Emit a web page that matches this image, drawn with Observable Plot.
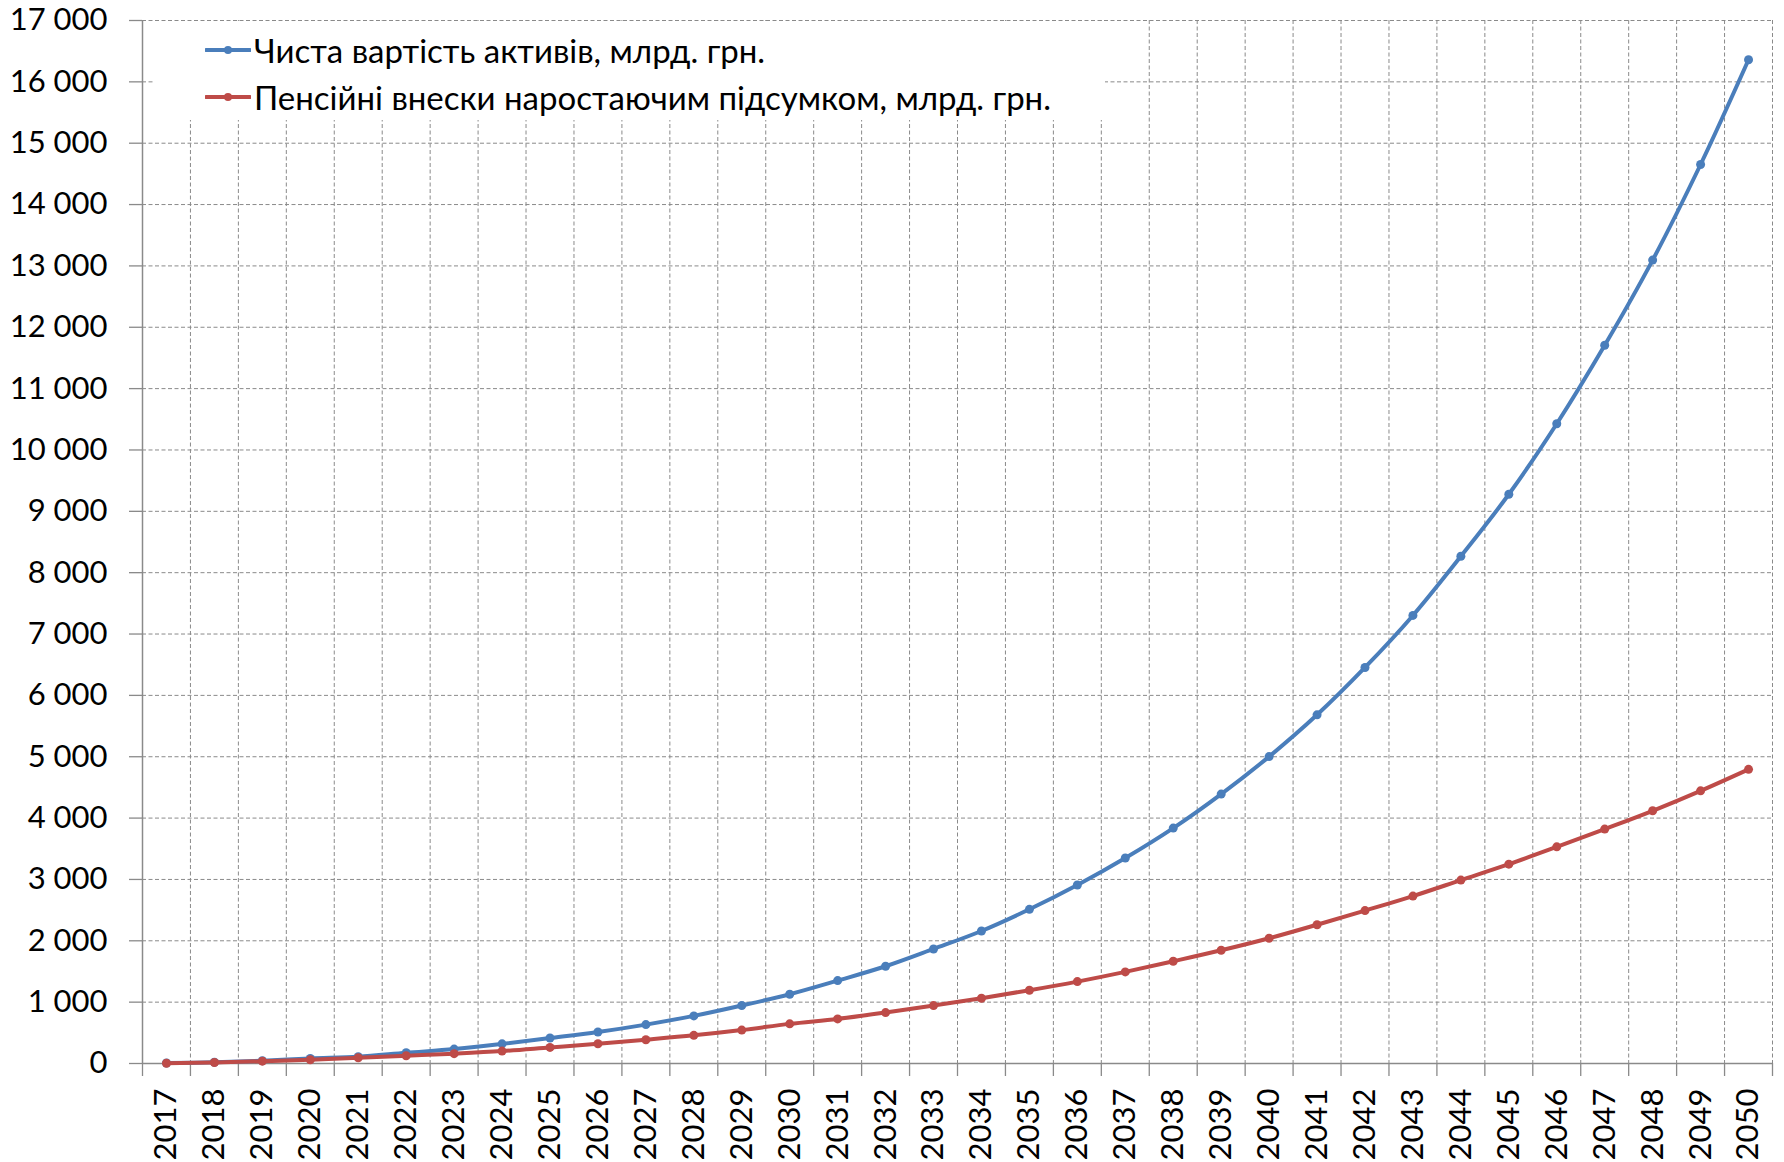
<!DOCTYPE html>
<html>
<head>
<meta charset="utf-8">
<script src="https://cdn.jsdelivr.net/npm/d3@7"></script>
<script src="https://cdn.jsdelivr.net/npm/@observablehq/plot@0.6"></script>
<style>
  html, body { margin: 0; padding: 0; background: #fff; }
  #wrap { position: relative; width: 1784px; height: 1162px; font-family: Lato, "Open Sans", sans-serif; }
  #legend { position: absolute; left: 153px; top: 21px; width: 952px; height: 99px; background: #fff; }
  .item { position: absolute; left: 0; height: 40px; display: flex; align-items: center; font-size: 33px; color: #000; white-space: nowrap; }
  .item svg { margin-left: 52px; margin-right: 3px; }
</style>
</head>
<body>
<div id="wrap">
  <div id="chart"></div>
  <div id="legend"></div>
</div>
<script>
const years = [2017, 2018, 2019, 2020, 2021, 2022, 2023, 2024, 2025, 2026, 2027, 2028, 2029, 2030, 2031, 2032, 2033,
  2034, 2035, 2036, 2037, 2038, 2039, 2040, 2041, 2042, 2043, 2044, 2045, 2046, 2047, 2048, 2049, 2050];
const netAssets = [8, 20, 44, 82, 110, 175, 235, 320, 415, 514, 634, 776, 945, 1129, 1351, 1585, 1867,
  2160, 2513, 2909, 3349, 3837, 4391, 5002, 5683, 6455, 7303, 8267, 9278, 10428, 11707, 13095, 14653, 16361];
const contributions = [5, 16, 38, 62, 93, 126, 160, 202, 262, 322, 388, 459, 545, 646, 727, 830, 944,
  1064, 1194, 1335, 1493, 1666, 1845, 2041, 2262, 2492, 2729, 2989, 3249, 3531, 3821, 4119, 4444, 4794];
const seriesNames = ["Чиста вартість активів, млрд. грн.", "Пенсійні внески наростаючим підсумком, млрд. грн."];
const seriesColors = ["#4A7EBB", "#BE4B48"];
const yTicks = [0, 1000, 2000, 3000, 4000, 5000, 6000, 7000, 8000, 9000, 10000, 11000, 12000, 13000, 14000, 15000, 16000, 17000];

const assetsData = years.map((y, i) => ({year: y, value: netAssets[i]}));
const contribData = years.map((y, i) => ({year: y, value: contributions[i]}));
const bounds = years.map(y => y - 0.5).concat([years[years.length - 1] + 0.5]);
const fmt = d => d3.format(",")(d).replace(/,/g, "\u00a0");
const gridColor = "#8a8a8a";
const axisColor = "#8a8a8a";

const chart = Plot.plot({
  width: 1784,
  height: 1162,
  marginLeft: 142,
  marginRight: 12,
  marginTop: 20,
  marginBottom: 99,
  style: {fontFamily: "Lato, 'Open Sans', sans-serif", background: "#fff", color: "#000"},
  x: {type: "linear", domain: [bounds[0], bounds[bounds.length - 1]]},
  y: {domain: [0, 17000]},
  marks: [
    Plot.gridY(yTicks.slice(1), {stroke: gridColor, strokeOpacity: 1, strokeWidth: 1, strokeDasharray: "4,2.5"}),
    Plot.gridX(bounds.slice(1), {stroke: gridColor, strokeOpacity: 1, strokeWidth: 1, strokeDasharray: "4,2.5"}),
    Plot.axisY(yTicks, {tickSize: 13, tickPadding: 22, tickFormat: fmt, fontSize: 31, stroke: axisColor, fill: "#000", strokeWidth: 1.3, label: null}),
    Plot.axisX(bounds, {tickSize: 13, fill: "none", stroke: axisColor, strokeWidth: 1.3, label: null}),
    Plot.axisX(years, {tickSize: 0, tickPadding: 25, tickRotate: -90, tickFormat: d => String(d), fontSize: 31, fill: "#000", label: null}),
    Plot.ruleY([0], {stroke: axisColor, strokeWidth: 1.5}),
    Plot.ruleX([bounds[0]], {stroke: axisColor, strokeWidth: 1.5}),
    Plot.line(assetsData, {x: "year", y: "value", stroke: seriesColors[0], strokeWidth: 4, curve: "catmull-rom"}),
    Plot.dot(assetsData, {x: "year", y: "value", r: 4.5, fill: seriesColors[0], stroke: "none"}),
    Plot.line(contribData, {x: "year", y: "value", stroke: seriesColors[1], strokeWidth: 4, curve: "catmull-rom"}),
    Plot.dot(contribData, {x: "year", y: "value", r: 4.5, fill: seriesColors[1], stroke: "none"})
  ]
});
document.getElementById("chart").appendChild(chart);

const legend = document.getElementById("legend");
const rowCenters = [29, 76];
seriesNames.forEach((name, i) => {
  const div = document.createElement("div");
  div.className = "item";
  div.style.top = (rowCenters[i] - 20) + "px";
  div.innerHTML = `<svg width="46" height="12"><line x1="1" y1="6" x2="45" y2="6" stroke="${seriesColors[i]}" stroke-width="4" stroke-linecap="round"/><circle cx="23" cy="6" r="4" fill="${seriesColors[i]}"/></svg><span>${name}</span>`;
  legend.appendChild(div);
});
</script>
</body>
</html>
